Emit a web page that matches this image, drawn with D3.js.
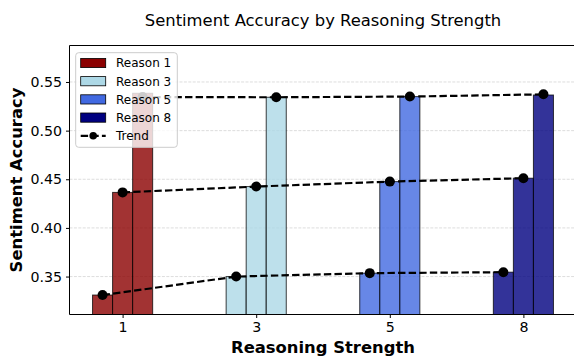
<!DOCTYPE html>
<html>
<head>
<meta charset="utf-8">
<script src="https://cdn.jsdelivr.net/npm/d3@7"></script>
<style>
  html, body { margin: 0; padding: 0; background: #fff; }
  svg { display: block; font-family: "DejaVu Sans", sans-serif; }
</style>
</head>
<body>
<svg id="chart" width="574" height="356"></svg>
<script>
// Reasoning strength levels shown along the x axis
const categories = ["1", "3", "5", "8"];
const legendLabels = ["Reason 1", "Reason 3", "Reason 5", "Reason 8"];
const groupColors = ["#8B0000", "#ADD8E6", "#4169E1", "#000080"];

// Three bars per reasoning level (left, middle, right)
const accuracyLow  = [0.331, 0.350, 0.3535, 0.3545];
const accuracyMid  = [0.4365, 0.4425, 0.4476, 0.4511];
const accuracyHigh = [0.5384, 0.5343, 0.5350, 0.5366];

// Trend points joined across levels
const trendLow  = [0.331, 0.350, 0.3535, 0.3545];
const trendMid  = [0.4365, 0.4425, 0.4476, 0.4511];
const trendHigh = [0.5345, 0.5343, 0.5350, 0.5373];

const yTicks = [0.35, 0.40, 0.45, 0.50, 0.55];
const yDomain = [0.311, 0.5875];

const barSeries = [accuracyLow, accuracyMid, accuracyHigh];
const trendSeries = [trendLow, trendMid, trendHigh];
const barOffsets = [-0.15, 0, 0.15];
const barWidth = 0.15;

const svg = d3.select("#chart");
const plot = { left: 69.5, right: 576.5, top: 45.5, bottom: 314.5 };

const x = d3.scaleLinear().domain([-0.3975, 3.3975]).range([plot.left, plot.right]);
const y = d3.scaleLinear().domain(yDomain).range([plot.bottom, plot.top]);

// Horizontal dashed grid
svg.append("g").selectAll("line").data(yTicks).join("line")
  .attr("x1", plot.left).attr("x2", plot.right)
  .attr("y1", d => y(d)).attr("y2", d => y(d))
  .attr("stroke", "#b0b0b0").attr("stroke-opacity", 0.55)
  .attr("stroke-width", 0.8).attr("stroke-dasharray", "3,1.4");

// Bars
const barData = [];
barSeries.forEach((series, s) => {
  series.forEach((v, i) => barData.push({ i, s, v }));
});
svg.append("g").selectAll("rect").data(barData).join("rect")
  .attr("x", d => x(d.i + barOffsets[d.s] - barWidth / 2))
  .attr("width", d => x(d.i + barOffsets[d.s] + barWidth / 2) - x(d.i + barOffsets[d.s] - barWidth / 2))
  .attr("y", d => y(d.v))
  .attr("height", d => plot.bottom - y(d.v))
  .attr("fill", d => groupColors[d.i]).attr("fill-opacity", 0.8)
  .attr("stroke", "#000").attr("stroke-opacity", 0.75).attr("stroke-width", 1);

// Trend lines with markers
const line = d3.line().x(d => x(d.i + d.off)).y(d => y(d.v));
const trendG = svg.append("g");
trendSeries.forEach((series, s) => {
  const pts = series.map((v, i) => ({ i, v, off: barOffsets[s] }));
  trendG.append("path").datum(pts)
    .attr("d", line).attr("fill", "none")
    .attr("stroke", "#000").attr("stroke-width", 2.2)
    .attr("stroke-dasharray", "7.4,3.2");
  trendG.selectAll(null).data(pts).join("circle")
    .attr("cx", d => x(d.i + d.off)).attr("cy", d => y(d.v))
    .attr("r", 5).attr("fill", "#000");
});

// Spines
const spines = svg.append("g").attr("stroke", "#000").attr("stroke-width", 1).attr("fill", "none");
spines.append("line").attr("x1", plot.left).attr("x2", plot.left).attr("y1", plot.top).attr("y2", plot.bottom);
spines.append("line").attr("x1", plot.left).attr("x2", plot.right).attr("y1", plot.bottom).attr("y2", plot.bottom);
spines.append("line").attr("x1", plot.left).attr("x2", plot.right).attr("y1", plot.top).attr("y2", plot.top);
spines.append("line").attr("x1", plot.right).attr("x2", plot.right).attr("y1", plot.top).attr("y2", plot.bottom);

// Axes
const xAxis = d3.axisBottom(x).tickValues(d3.range(categories.length))
  .tickFormat(i => categories[i]).tickSize(3.5).tickPadding(4);
const gx = svg.append("g").attr("transform", `translate(0,${plot.bottom})`).call(xAxis);
gx.select(".domain").remove();
gx.selectAll("text").attr("font-size", 14.2).attr("font-family", "DejaVu Sans").attr("fill", "#000");

const yAxis = d3.axisLeft(y).tickValues(yTicks).tickFormat(d3.format(".2f")).tickSize(3.5).tickPadding(4);
const gy = svg.append("g").attr("transform", `translate(${plot.left},0)`).call(yAxis);
gy.select(".domain").remove();
gy.selectAll("text").attr("font-size", 14.2).attr("font-family", "DejaVu Sans").attr("fill", "#000");

// Titles
svg.append("text").attr("x", (plot.left + plot.right) / 2).attr("y", 26)
  .attr("text-anchor", "middle").attr("font-size", 16.4).attr("fill", "#000")
  .text("Sentiment Accuracy by Reasoning Strength");
svg.append("text").attr("x", (plot.left + plot.right) / 2).attr("y", 353)
  .attr("text-anchor", "middle").attr("font-size", 16.4).attr("font-weight", "bold").attr("fill", "#000")
  .text("Reasoning Strength");
svg.append("text").attr("transform", `translate(22,${(plot.top + plot.bottom) / 2}) rotate(-90)`)
  .attr("text-anchor", "middle").attr("font-size", 16.4).attr("font-weight", "bold").attr("fill", "#000")
  .text("Sentiment Accuracy");

// Legend
const legend = svg.append("g");
legend.append("rect").attr("x", 75.7).attr("y", 52.7).attr("width", 101.6).attr("height", 94.6)
  .attr("rx", 3).attr("fill", "#fff").attr("fill-opacity", 0.8)
  .attr("stroke", "#cccccc").attr("stroke-width", 1);
const rowY = i => 63 + i * 18.2;
legendLabels.forEach((lab, i) => {
  legend.append("rect").attr("x", 80.7).attr("y", rowY(i) - 4.6).attr("width", 25).attr("height", 9.2)
    .attr("fill", groupColors[i]).attr("stroke", "#000").attr("stroke-width", 0.8);
  legend.append("text").attr("x", 116).attr("y", rowY(i) + 4.3)
    .attr("font-size", 12).attr("fill", "#000").text(lab);
});
const ty = rowY(4);
legend.append("line").attr("x1", 80.7).attr("x2", 105.7).attr("y1", ty).attr("y2", ty)
  .attr("stroke", "#000").attr("stroke-width", 2.2).attr("stroke-dasharray", "7.4,3.2");
legend.append("circle").attr("cx", 93.2).attr("cy", ty).attr("r", 3.8).attr("fill", "#000");
legend.append("text").attr("x", 116).attr("y", ty + 4.3)
  .attr("font-size", 12).attr("fill", "#000").text("Trend");
</script>
</body>
</html>
